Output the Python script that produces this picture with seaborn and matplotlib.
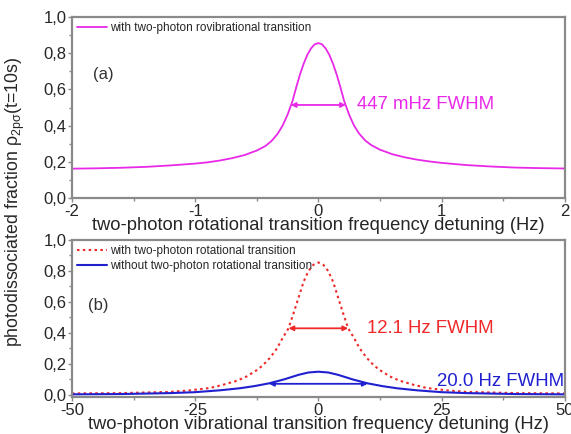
import numpy as np
import pandas as pd
import matplotlib
matplotlib.use('Agg')
import matplotlib.pyplot as plt
from matplotlib.ticker import FixedLocator, MultipleLocator
import seaborn as sns

sns.set_theme(style='white')
plt.rcParams['font.family'] = ['Liberation Sans', 'DejaVu Sans']
plt.rcParams['mathtext.fontset'] = 'custom'
plt.rcParams['mathtext.rm'] = 'Liberation Sans'
plt.rcParams['mathtext.it'] = 'Liberation Sans:italic'

# panel (a): rovibrational line vs rotational detuning (Hz)
rot_x = [-2.0, -1.8, -1.6, -1.4, -1.2, -1.0, -0.9, -0.8, -0.7, -0.6, -0.5, -0.43,
         -0.38, -0.33, -0.29, -0.25, -0.21, -0.18, -0.15, -0.12, -0.09, -0.06,
         -0.03, 0.0, 0.03, 0.06, 0.09, 0.12, 0.15, 0.18, 0.21, 0.25, 0.29, 0.33,
         0.38, 0.43, 0.5, 0.6, 0.7, 0.8, 0.9, 1.0, 1.2, 1.4, 1.6, 1.8, 2.0]
rot_y = [0.162, 0.164, 0.167, 0.172, 0.18, 0.19, 0.197, 0.207, 0.22, 0.237, 0.262,
         0.287, 0.315, 0.355, 0.40, 0.46, 0.535, 0.61, 0.68, 0.74, 0.79, 0.826,
         0.849, 0.856, 0.849, 0.826, 0.79, 0.74, 0.68, 0.61, 0.535, 0.46, 0.40,
         0.357, 0.318, 0.292, 0.267, 0.242, 0.225, 0.212, 0.202, 0.194, 0.182,
         0.174, 0.168, 0.165, 0.163]

# panel (b): vibrational detuning (Hz)
vib_x = [-50, -40, -30, -26, -22, -19.4, -16.5, -14.5, -12.5, -11.3, -9.8, -8.4,
         -7.2, -6.05, -5.0, -4.0, -3.0, -2.0, -1.0, 0, 1.0, 2.0, 3.0, 4.0, 5.0,
         6.05, 7.2, 8.4, 9.8, 11.3, 12.5, 14.5, 16.5, 19.4, 22, 26, 30, 40, 50]
with_rot = [0.010, 0.012, 0.020, 0.030, 0.045, 0.065, 0.092, 0.12, 0.16, 0.19,
            0.24, 0.30, 0.37, 0.43, 0.53, 0.63, 0.73, 0.80, 0.84, 0.855, 0.84,
            0.80, 0.73, 0.63, 0.53, 0.43, 0.37, 0.30, 0.24, 0.19, 0.16, 0.12,
            0.092, 0.065, 0.045, 0.030, 0.020, 0.012, 0.010]
blue_x = [-50, -40, -30, -25, -20, -16, -13, -10, -7, -4, -2, 0, 2, 4, 7, 10,
          13, 16, 20, 25, 30, 40, 50]
without_rot = [0.004, 0.006, 0.012, 0.018, 0.030, 0.043, 0.057, 0.075, 0.10,
               0.13, 0.145, 0.15, 0.145, 0.13, 0.10, 0.075, 0.057, 0.043, 0.030,
               0.018, 0.012, 0.006, 0.004]

# FWHM markers: (width, height of arrow)
fwhm_a = (0.447, 0.514)
fwhm_red = (12.1, 0.43)
fwhm_blue = (20.0, 0.072)

y_ticks = [0.0, 0.2, 0.4, 0.6, 0.8, 1.0]
y_ticklabels = ['0,0', '0,2', '0,4', '0,6', '0,8', '1,0']
rot_ticks = [-2, -1, 0, 1, 2]
vib_ticks = [-50, -25, 0, 25, 50]

MAGENTA = '#e829e8'
RED = '#ee2a2a'
BLUE = '#2020d0'
FRAME = '#8a8a8a'

df_a = pd.DataFrame({'x': rot_x, 'y': rot_y})
df_r = pd.DataFrame({'x': vib_x, 'y': with_rot})
df_b = pd.DataFrame({'x': blue_x, 'y': without_rot})

fig = plt.figure(figsize=(5.71, 4.34), dpi=100)
ax1 = fig.add_axes([0.126, 0.5438, 0.863, 0.417])
ax2 = fig.add_axes([0.126, 0.0853, 0.863, 0.3618])

sns.lineplot(data=df_a, x='x', y='y', ax=ax1, color=MAGENTA, lw=1.3,
             label='with two-photon rovibrational transition')
sns.lineplot(data=df_r, x='x', y='y', ax=ax2, color=RED, lw=1.5,
             linestyle=(0, (1.2, 1.6)), label='with two-photon rotational transition')
sns.lineplot(data=df_b, x='x', y='y', ax=ax2, color=BLUE, lw=1.5,
             label='without two-photon rotational transition')

def fwhm_arrow(ax, fw, color, lw=1.3):
    w, h = fw
    ax.annotate('', xy=(-w / 2, h), xytext=(w / 2, h),
                arrowprops=dict(arrowstyle='<|-|>', color=color, lw=lw,
                                mutation_scale=7, shrinkA=0, shrinkB=0))

fwhm_arrow(ax1, fwhm_a, MAGENTA)
fwhm_arrow(ax2, fwhm_red, RED)
fwhm_arrow(ax2, fwhm_blue, BLUE)

ax1.text(0.31, fwhm_a[1], '447 mHz FWHM', color=MAGENTA, fontsize=13.4, va='center')
ax2.text(9.8, fwhm_red[1], '12.1 Hz FWHM', color=RED, fontsize=13.4, va='center')
ax2.text(49.8, 0.09, '20.0 Hz FWHM', color=BLUE, fontsize=13.4, va='center', ha='right')
ax1.text(-1.83, 0.68, '(a)', fontsize=12, color='#333333', va='center')
ax2.text(-46.8, 0.58, '(b)', fontsize=12, color='#333333', va='center')

ax1.set_xlim(-2, 2)
ax1.set_ylim(0, 1.0)
ax2.set_xlim(-50, 50)
ax2.set_ylim(-0.013, 1.0)

for ax, xt, minor in ((ax1, rot_ticks, 0.5), (ax2, vib_ticks, 12.5)):
    ax.xaxis.set_major_locator(FixedLocator(xt))
    ax.set_xticklabels([str(t) for t in xt])
    ax.xaxis.set_minor_locator(MultipleLocator(minor))
    ax.set_yticks(y_ticks)
    ax.set_yticklabels(y_ticklabels)
    ax.yaxis.set_minor_locator(MultipleLocator(0.1))
    ax.tick_params(which='major', direction='out', length=3, width=1, color=FRAME,
                   labelsize=12, pad=1, bottom=True, left=True)
    ax.tick_params(which='minor', direction='out', length=2, width=1, color=FRAME,
                   bottom=True, left=True)
    for s in ax.spines.values():
        s.set_color(FRAME)
        s.set_linewidth(1.6)
    ax.set_ylabel('')
    ax.legend(loc='upper left', frameon=False, fontsize=8.5, handlelength=2.5,
              handletextpad=0.3, borderaxespad=0.15, labelspacing=0.2,
              borderpad=0.3)

ax1.set_xlabel('two-photon rotational transition frequency detuning (Hz)',
               fontsize=13.2, labelpad=-1)
ax2.set_xlabel('two-photon vibrational transition frequency detuning (Hz)',
               fontsize=13.2, labelpad=-1)

fig.text(0.027, 1 - 202 / 434,
         r'photodissociated fraction $\mathregular{\rho_{2p\sigma}}$(t=10s)',
         rotation=90, fontsize=12.8, va='center', ha='center')

fig.savefig('out.png', dpi=100)
